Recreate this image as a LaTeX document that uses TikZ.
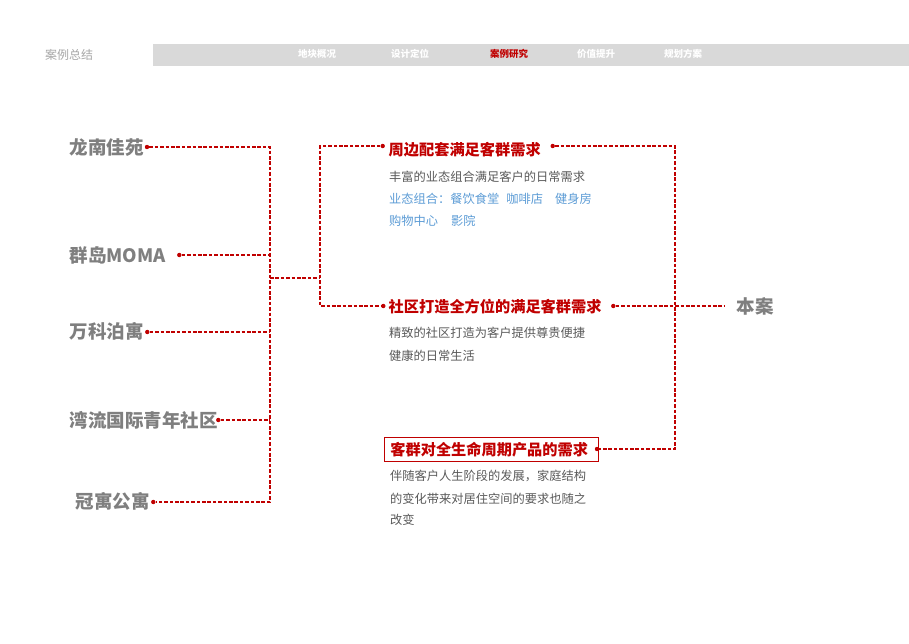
\documentclass[tikz,border=0pt]{standalone}
\usepackage{fontspec}
\setmainfont{Noto Sans CJK SC}
\definecolor{dred}{HTML}{C00000}
\definecolor{lgray}{HTML}{7F7F7F}
\definecolor{tgray}{HTML}{595959}
\definecolor{hgray}{HTML}{A6A6A6}
\definecolor{lblue}{HTML}{5B9BD5}
\definecolor{barc}{HTML}{D9D9D9}
\begin{document}
\begin{tikzpicture}[x=1pt,y=-1pt,
  lbl/.style={anchor=west,inner sep=0,font=\fontsize{18.5}{20}\selectfont\bfseries,text=lgray},
  head/.style={anchor=west,inner sep=0,font=\fontsize{15.2}{17}\selectfont\bfseries,text=dred},
  desc/.style={anchor=west,inner sep=0,font=\fontsize{12.25}{14}\selectfont,text=tgray},
  bdesc/.style={desc,text=lblue},
  link/.style={draw=dred,line width=1.3pt,dash pattern=on 3.6pt off 1.8pt},
  dot/.style={circle,fill=dred,inner sep=0,minimum size=4.4pt},
  nav/.style={inner sep=0,font=\fontsize{9.5}{10}\selectfont\bfseries,text=white}]
\path[use as bounding box] (0,0) rectangle (909,643);
% header
\node[anchor=west,inner sep=0,font=\fontsize{12}{13}\selectfont,text=hgray] (hd) at (45,54.5) {案例总结};
\fill[barc] (153,44) rectangle (909,66);
\node[nav] (n1) at (317,54) {地块概况};
\node[nav] (n2) at (410,54) {设计定位};
\node[nav,text=dred] (n3) at (509,54) {案例研究};
\node[nav] (n4) at (596,54) {价值提升};
\node[nav] (n5) at (683,54) {规划方案};
% left labels
\node[lbl] (l1) at (69.5,148) {龙南佳苑};
\node[lbl] (l2) at (69.5,255) {群岛MOMA};
\node[lbl] (l3) at (69.5,331.7) {万科泊寓};
\node[lbl] (l4) at (69.5,420) {湾流国际青年社区};
\node[lbl] (l5) at (75.5,501.7) {冠寓公寓};
\node[dot] (dl1) at (147,147) {};
\node[dot] (dl2) at (179.3,255) {};
\node[dot] (dl3) at (147.3,332) {};
\node[dot] (dl4) at (218.3,420) {};
\node[dot] (dl5) at (153.3,502) {};
\coordinate (bl1) at (270,147);
\coordinate (bl5) at (270,502);
\draw[link] (dl1) -- (bl1) -- (bl5) -- (dl5);
\draw[link] (dl2) -- (dl2 -| bl1);
\draw[link] (dl3) -- (dl3 -| bl1);
\draw[link] (dl4) -- (dl4 -| bl1);
\coordinate (jl) at (270,278);
\coordinate (jr) at (320,278);
\draw[link] (jl) -- (jr);
% middle headings
\node[dot] (dh1) at (382.7,146) {};
\node[dot] (dh2) at (383.3,306) {};
\coordinate (rt) at (320,146);
\coordinate (rb) at (320,306);
\draw[link] (dh1) -- (rt) -- (rb) -- (dh2);
\node[head] (h1) at (388.5,149.5) {周边配套满足客群需求};
\node[head] (h2) at (388.5,306.5) {社区打造全方位的满足客群需求};
\node[head,draw=dred,line width=0.8pt,inner xsep=6pt,inner ysep=0pt,text width=202pt,minimum height=24.4pt,align=left] (h3) at (384,449.5) {客群对全生命周期产品的需求};
% descriptions
\node[desc] (t11) at (389,176.7) {丰富的业态组合满足客户的日常需求};
\node[bdesc] (t12) at (389,199.3) {业态组合：餐饮食堂\hspace{7pt}咖啡店\hspace{12pt}健身房};
\node[bdesc] (t13) at (389,220.5) {购物中心\hspace{13pt}影院};
\node[desc] (t21) at (389,333.3) {精致的社区打造为客户提供尊贵便捷};
\node[desc] (t22) at (389,356) {健康的日常生活};
\node[desc] (t31) at (390,475.5) {伴随客户人生阶段的发展，家庭结构};
\node[desc] (t32) at (390,498.3) {的变化带来对居住空间的要求也随之};
\node[desc] (t33) at (390,520.3) {改变};
% right side
\node[dot] (dr1) at (552.7,146) {};
\node[dot] (dr2) at (613.3,306) {};
\node[dot] (dr3) at (597,449) {};
\coordinate (rr1) at (675,146);
\coordinate (rr3) at (675,449);
\draw[link] (dr1) -- (rr1) -- (rr3) -- (dr3);
\node[lbl,inner xsep=12.5pt,inner ysep=0pt] (ba) at (724.2,306.5) {本案};
\draw[link] (dr2) -- (dr2 -| ba.west);
\end{tikzpicture}
\end{document}
